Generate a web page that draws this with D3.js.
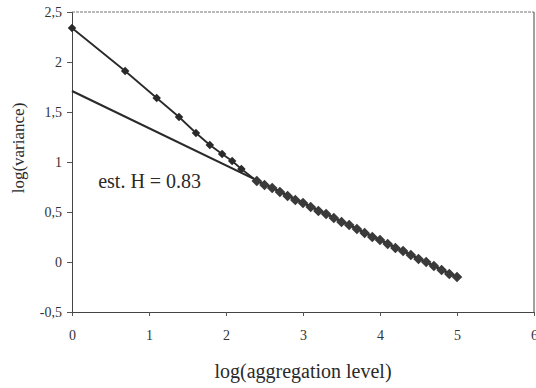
<!DOCTYPE html>
<html>
<head>
<meta charset="utf-8">
<script src="https://cdn.jsdelivr.net/npm/d3@7"></script>
<style>
  body { margin: 0; background: #fff; }
  svg { display: block; font-family: "Liberation Serif", "DejaVu Serif", serif; }
</style>
</head>
<body>
<div class="canvas"></div>
<script>
// data
const xTicks = [0, 1, 2, 3, 4, 5, 6];
const yTicks = [-0.5, 0, 0.5, 1, 1.5, 2, 2.5];

// small aggregation levels (log scale)
const smallX = [0, 0.69, 1.10, 1.39, 1.61, 1.79, 1.95, 2.08, 2.20];
const smallY = [2.34, 1.91, 1.64, 1.45, 1.29, 1.17, 1.08, 1.01, 0.93];

// large aggregation levels (log spaced)
const bigX = [2.40, 2.50, 2.60, 2.70, 2.80, 2.90, 3.00, 3.10, 3.20, 3.30, 3.40, 3.50, 3.60, 3.70,
              3.80, 3.90, 4.00, 4.10, 4.20, 4.30, 4.40, 4.50, 4.60, 4.70, 4.80, 4.90, 5.00];
const bigY = [0.81, 0.77, 0.74, 0.70, 0.66, 0.62, 0.59, 0.55, 0.51, 0.48, 0.44, 0.40, 0.37, 0.33,
              0.29, 0.25, 0.22, 0.18, 0.14, 0.11, 0.07, 0.03, 0.00, -0.04, -0.08, -0.12, -0.15];

// fitted line (est. H = 0.83)
const fitX = [0, 5.0];
const fitY = [1.71, -0.15];

const width = 536, height = 388;
const margin = { top: 12, right: 2, bottom: 76, left: 72 };
const graphWidth = width - margin.left - margin.right;
const graphHeight = height - margin.top - margin.bottom;

const svg = d3.select('.canvas')
    .append('svg')
    .attr('width', width)
    .attr('height', height);

const graph = svg.append('g')
    .attr('transform', `translate(${margin.left}, ${margin.top})`);

const xScale = d3.scaleLinear().domain([0, 6]).range([0, graphWidth]);
const yScale = d3.scaleLinear().domain([-0.5, 2.5]).range([graphHeight, 0]);

const fmt = d => String(d).replace('.', ',');

// frame: top dashed-ish light, right solid
graph.append('line')
    .attr('x1', 0).attr('x2', graphWidth).attr('y1', 0).attr('y2', 0)
    .attr('stroke', '#777').attr('stroke-width', 1).attr('stroke-dasharray', '3,1');
graph.append('line')
    .attr('x1', graphWidth).attr('x2', graphWidth).attr('y1', 0).attr('y2', graphHeight)
    .attr('stroke', '#444').attr('stroke-width', 1);

// axes
const xAxisGroup = graph.append('g')
    .attr('transform', `translate(0, ${graphHeight})`)
    .call(d3.axisBottom(xScale).tickValues(xTicks).tickSize(4).tickPadding(14).tickFormat(d3.format('d')));
const yAxisGroup = graph.append('g')
    .call(d3.axisLeft(yScale).tickValues(yTicks).tickSize(5).tickPadding(5).tickFormat(fmt));

[xAxisGroup, yAxisGroup].forEach(g => {
    g.select('.domain').attr('stroke', '#444');
    g.selectAll('.tick line').attr('stroke', '#555');
    g.selectAll('text')
        .attr('font-family', '"Liberation Serif", serif')
        .attr('font-size', 14)
        .attr('fill', '#333');
});

// fit line
const line = d3.line().x(d => xScale(d[0])).y(d => yScale(d[1]));
graph.append('path')
    .datum(d3.zip(fitX, fitY))
    .attr('d', line)
    .attr('fill', 'none')
    .attr('stroke', '#2a2a2a')
    .attr('stroke-width', 2.2);

// data series line
const allPts = d3.zip(smallX.concat(bigX), smallY.concat(bigY));
graph.append('path')
    .datum(allPts)
    .attr('d', line)
    .attr('fill', 'none')
    .attr('stroke', '#2a2a2a')
    .attr('stroke-width', 1.8);

// markers (diamonds)
const diamond = d3.symbol().type(d3.symbolSquare);
graph.selectAll('.small')
    .data(d3.zip(smallX, smallY))
    .enter().append('path')
    .attr('class', 'small')
    .attr('d', diamond.size(36)())
    .attr('transform', d => `translate(${xScale(d[0])}, ${yScale(d[1])}) rotate(45)`)
    .attr('fill', '#2a2a2a');

graph.selectAll('.big')
    .data(d3.zip(bigX, bigY))
    .enter().append('path')
    .attr('class', 'big')
    .attr('d', diamond.size(56)())
    .attr('transform', d => `translate(${xScale(d[0])}, ${yScale(d[1])}) rotate(45)`)
    .attr('fill', '#3a3a3a');

// annotation
graph.append('text')
    .attr('x', xScale(0.34))
    .attr('y', yScale(0.74))
    .attr('font-size', 20)
    .attr('fill', '#2a2a2a')
    .text('est. H = 0.83');

// axis titles
svg.append('text')
    .attr('x', margin.left + xScale(3))
    .attr('y', 378)
    .attr('text-anchor', 'middle')
    .attr('font-size', 20)
    .attr('fill', '#2a2a2a')
    .text('log(aggregation level)');

svg.append('text')
    .attr('transform', 'translate(24, 148) rotate(-90)')
    .attr('text-anchor', 'middle')
    .attr('font-size', 17)
    .attr('fill', '#2a2a2a')
    .text('log(variance)');
</script>
</body>
</html>
